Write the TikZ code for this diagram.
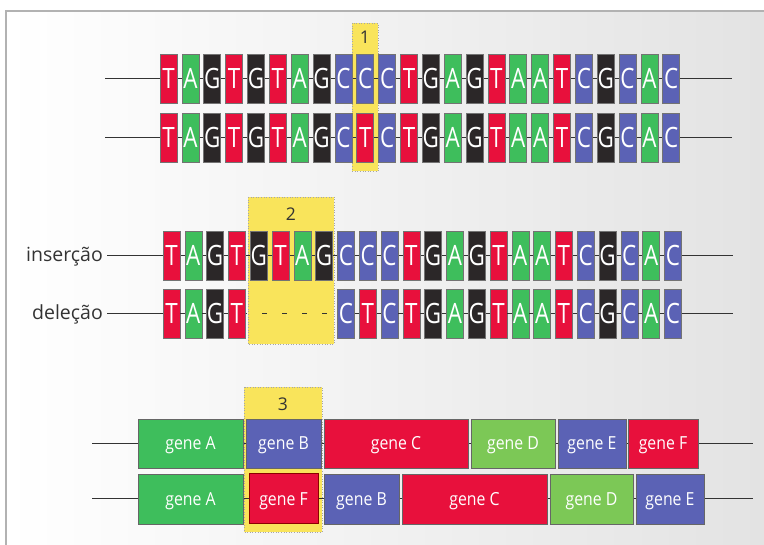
\documentclass[tikz,border=0pt]{standalone}
\usepackage{fontspec}
\setmainfont{Open Sans}
\newfontfamily\nucf[FakeStretch=0.8]{Open Sans}
\newfontfamily\genef[FakeStretch=0.88]{Open Sans}
\definecolor{cT}{HTML}{E8103C}
\definecolor{cA}{HTML}{3EBE5C}
\definecolor{cG}{HTML}{2B2728}
\definecolor{cC}{HTML}{5B62B5}
\definecolor{cD}{HTML}{7CC856}
\definecolor{hly}{HTML}{F9E45B}
\definecolor{ink}{HTML}{333333}
\begin{document}
\begin{tikzpicture}[x=1pt,y=-1pt,
  nuc/.style={rectangle,draw=black!55,line width=0.6pt,minimum width=17pt,minimum height=49pt,inner sep=0pt,text=white,font=\nucf\fontsize{28}{28}\selectfont},
  gene/.style={rectangle,draw=black!60,line width=0.8pt,minimum height=49pt,inner sep=0pt,text=white,text height=12.9pt,text depth=0pt,font=\genef\fontsize{18}{18}\selectfont},
  hl/.style={fill=hly,draw=black!35,dotted,line width=0.6pt},
  strand/.style={draw=ink,line width=1.6pt},
  num/.style={text=ink,font=\fontsize{17.5}{18}\selectfont,inner sep=0pt,anchor=base},
  lbl/.style={text=ink,font=\fontsize{19.5}{20}\selectfont,inner sep=0pt,anchor=base east}]

\useasboundingbox (0,0) rectangle (764,545);
\shade[left color=white,right color=black!11] (6,11) rectangle (764,545);
\draw[black!30,line width=1.5pt] (6,545) -- (6,11) -- (764,11);

% highlights
\draw[hl] (352,23) rectangle (378,171);
\draw[hl] (248,197) rectangle (334,344);
\draw[hl] (244,387) rectangle (322,532);
\node[num] (n1) at (365,44) {1};
\node[num] (n2) at (291,221) {2};
\node[num] (n3) at (283,411) {3};

% strand ends
\coordinate (l1a) at (105,78.5);  \coordinate (l1b) at (732,78.5);
\coordinate (l2a) at (105,137.5); \coordinate (l2b) at (732,137.5);
\coordinate (l3a) at (107,255.5); \coordinate (l3b) at (733,255.5);
\coordinate (l4a) at (107,313.5); \coordinate (l4b) at (733,313.5);
\coordinate (l5a) at (92,443.5);  \coordinate (l5b) at (753,443.5);
\coordinate (l6a) at (92,498.5);  \coordinate (l6b) at (753,498.5);
\draw[strand] (l1a) -- (l1b);
\draw[strand] (l2a) -- (l2b);
\draw[strand] (l3a) -- (l3b);
\draw[strand] (l5a) -- (l5b);
\draw[strand] (l6a) -- (l6b);

% row 1
\foreach \l [count=\i from 0] in {T,A,G,T,G,T,A,G,C,C,C,T,G,A,G,T,A,A,T,C,G,C,A,C}
  \node[nuc,fill=c\l] (a\i) at ({168.5+21.86*\i},78.5) {\l};
% row 2
\foreach \l [count=\i from 0] in {T,A,G,T,G,T,A,G,C,T,C,T,G,A,G,T,A,A,T,C,G,C,A,C}
  \node[nuc,fill=c\l] (b\i) at ({168.5+21.86*\i},137.5) {\l};
% row 3 insertion
\foreach \l [count=\i from 0] in {T,A,G,T,G,T,A,G,C,C,C,T,G,A,G,T,A,A,T,C,G,C,A,C}
  \node[nuc,fill=c\l] (i\i) at ({171.5+21.8*\i},255.5) {\l};
% row 4 deletion
\foreach \l [count=\i from 0] in {T,A,G,T}
  \node[nuc,fill=c\l] (d\i) at ({171.5+21.8*\i},313.5) {\l};
\foreach \l [count=\i from 8] in {C,T,C,T,G,A,G,T,A,A,T,C,G,C,A,C}
  \node[nuc,fill=c\l] (d\i) at ({171.5+21.8*\i},313.5) {\l};
\draw[strand] (l4a) -- (d0.west);
\draw[strand] (d0.east) -- (d1.west);
\draw[strand] (d1.east) -- (d2.west);
\draw[strand] (d2.east) -- (d3.west);
\draw[strand,dash pattern=on 5pt off 15pt,dash phase=3.5pt] (d3.east) -- (d8.west);
\foreach \j [evaluate=\j as \k using int(\j+1)] in {8,...,22}
  \draw[strand] (d\j.east) -- (d\k.west);
\draw[strand] (d23.east) -- (l4b);

\node[lbl] (ins) at (103,262) {inserção};
\node[lbl] (del) at (103,320) {deleção};

% genes row 5
\node[gene,fill=cA,minimum width=105pt] (gA1) at (190.5,443.5) {gene A};
\node[gene,fill=cC,minimum width=75pt]  (gB1) at (283.5,443.5) {gene B};
\node[gene,fill=cT,minimum width=144pt] (gC1) at (396,443.5) {gene C};
\node[gene,fill=cD,minimum width=84pt]  (gD1) at (513,443.5) {gene D};
\node[gene,fill=cC,minimum width=68pt]  (gE1) at (592,443.5) {gene E};
\node[gene,fill=cT,minimum width=70pt]  (gF1) at (663,443.5) {gene F};
% genes row 6
\node[gene,fill=cA,minimum width=105pt,minimum height=50pt] (gA2) at (190.5,499) {gene A};
\node[gene,fill=cT,draw=red!55!black,line width=1pt,minimum width=69pt,minimum height=50pt] (gF2) at (283.5,499) {gene F};
\node[gene,fill=cC,minimum width=75pt,minimum height=50pt]  (gB2) at (361.5,499) {gene B};
\node[gene,fill=cT,minimum width=145pt,minimum height=50pt] (gC2) at (474.5,499) {gene C};
\node[gene,fill=cD,minimum width=83pt,minimum height=50pt]  (gD2) at (591.5,499) {gene D};
\node[gene,fill=cC,minimum width=68pt,minimum height=50pt]  (gE2) at (670,499) {gene E};
\end{tikzpicture}
\end{document}
